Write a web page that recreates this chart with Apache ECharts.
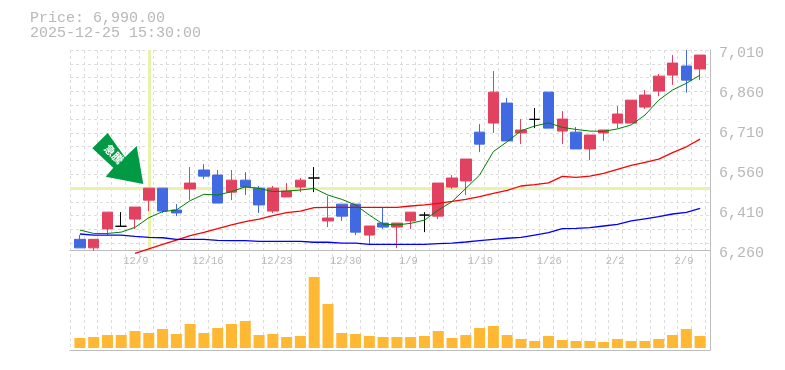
<!DOCTYPE html>
<html><head><meta charset="utf-8">
<script src="https://cdn.jsdelivr.net/npm/echarts@6/dist/echarts.min.js"></script>
<style>html,body{margin:0;padding:0;background:#fff}#c{width:785px;height:370px}</style></head>
<body><div id="c"></div>
<script>
const dates=['12/4','12/5','12/8','12/9','12/10','12/11','12/12','12/15','12/16','12/17','12/18','12/19','12/22','12/23','12/24','12/25','12/26','12/29','12/30','1/5','1/6','1/7','1/8','1/9','1/13','1/14','1/15','1/16','1/19','1/20','1/21','1/22','1/23','1/26','1/27','1/28','1/29','1/30','2/2','2/3','2/4','2/5','2/6','2/9','2/10','2/12'];
const priceTicks=['6,260','6,410','6,560','6,710','6,860','7,010'];
const opens=[6300,6268,6339,6349,6376,6447,6492,6410,6489,6560,6541,6477,6522,6492,6406,6459,6496,6530,6369,6432,6432,6316,6361,6346,6369,6391,6387,6496,6519,6702,6736,6811,6699,6750,6852,6706,6702,6639,6699,6736,6736,6796,6856,6916,6950,6939];
const closes=[6268,6300,6402,6349,6421,6492,6406,6399,6511,6537,6436,6522,6496,6429,6492,6481,6522,6530,6380,6387,6327,6350,6346,6361,6402,6391,6511,6530,6601,6657,6852,6669,6710,6750,6717,6751,6639,6691,6710,6770,6822,6841,6912,6961,6897,6991];
const lows=[6268,6257,6316,6349,6339,6406,6399,6387,6447,6526,6436,6447,6466,6399,6399,6459,6477,6477,6346,6369,6316,6279,6339,6267,6339,6327,6376,6489,6466,6627,6699,6669,6657,6717,6717,6657,6639,6597,6669,6717,6736,6789,6837,6879,6850,6897];
const highs=[6316,6300,6402,6402,6421,6492,6492,6432,6571,6582,6560,6560,6552,6500,6500,6511,6530,6571,6462,6432,6432,6350,6421,6361,6402,6402,6511,6541,6601,6732,6931,6830,6751,6792,6852,6781,6721,6691,6710,6800,6822,6860,6920,6991,7010,6991];
const maShort=[6335,6322,6322,6327,6345,6381,6404,6410,6445,6469,6466,6479,6497,6491,6479,6481,6485,6491,6466,6450,6429,6391,6357,6354,6360,6372,6410,6441,6491,6541,6629,6666,6707,6725,6737,6720,6712,6706,6705,6714,6729,6766,6822,6860,6885,6916];
const maMid=[null,null,null,null,6247,6264,6281,6297,6314,6326,6340,6354,6366,6376,6389,6400,6406,6419,6420,6420,6420,6420,6420,6420,6425,6429,6435,6442,6450,6460,6472,6484,6500,6505,6512,6536,6532,6537,6547,6562,6577,6589,6601,6625,6647,6676];
const maLong=[6320,6316,6316,6316,6311,6307,6306,6300,6300,6300,6296,6295,6295,6292,6292,6292,6292,6289,6289,6286,6286,6281,6281,6281,6281,6281,6284,6286,6290,6295,6300,6304,6307,6316,6325,6340,6341,6344,6350,6356,6369,6377,6385,6395,6401,6416];
const volumes=[100,110,130,130,170,150,190,140,240,150,200,240,270,130,140,110,120,710,440,150,140,120,110,110,110,120,170,100,130,200,220,130,90,70,120,80,70,70,60,90,70,70,90,130,190,120];
const crossDate='12/11', crossPrice=6491;
const priceLine='Price: 6,990.00', timeLine='2025-12-25 15:30:00', arrowText='急騰';

const GRID='#dcdcdc', AXIS='#bdbdbd', TEXT='#b8b8b8', MONO='"Liberation Mono","DejaVu Sans Mono",monospace';
const UP='#e2425f', DOWN='#4169e1', CROSS='#e8f2ad';
const ohlc=dates.map((d,i)=>[opens[i],closes[i],lows[i],highs[i]]);
const none={show:false};
const chart=echarts.init(document.getElementById('c'),null,{renderer:'canvas'});
const dash={show:true,lineStyle:{color:GRID,type:[3,3],width:1}};
const line=(name,data,color,width)=>({name,type:'line',data,xAxisIndex:2,yAxisIndex:3,showSymbol:false,symbol:'none',
  clip:false,connectNulls:false,lineStyle:{color,width},z:5,animation:false});
chart.setOption({
  animation:false,
  backgroundColor:'#fff',
  grid:[
    {left:70,top:50,width:640,height:300},
    {left:70,top:50,width:640,height:200},
    {left:73,top:50,width:634,height:200},
    {left:73,top:250,width:634,height:98},
    {left:70,top:53,width:640,height:200}
  ],
  xAxis:[
    {gridIndex:0,type:'value',min:0,max:46.34,interval:1,axisLabel:none,axisTick:none,splitLine:dash,
     axisLine:{show:true,onZero:false,lineStyle:{color:AXIS,width:1}}},
    {gridIndex:1,type:'value',min:0,max:1,axisLabel:none,axisTick:none,splitLine:none,
     axisLine:{show:true,onZero:false,lineStyle:{color:AXIS,width:1}}},
    {gridIndex:2,type:'category',data:dates,axisLine:none,axisTick:none,splitLine:none,
     axisLabel:{show:true,color:TEXT,fontFamily:MONO,fontSize:10.5,align:'left',margin:6,padding:[0,0,0,2],
       interval:(i)=>(i-3)%5===0&&i>=3,hideOverlap:false}},
    {gridIndex:3,type:'category',data:dates,axisLine:none,axisTick:none,axisLabel:none,splitLine:none},
    {gridIndex:4,type:'value',min:0,max:1,axisLabel:none,axisTick:none,axisLine:none,splitLine:none}
  ],
  yAxis:[
    {gridIndex:0,type:'value',position:'right',min:0,max:1,axisLabel:none,axisTick:none,splitLine:none,
     axisLine:{show:true,onZero:false,lineStyle:{color:AXIS,width:1}}},
    {gridIndex:1,type:'value',inverse:true,min:0,max:14.48,interval:1,axisLabel:none,axisTick:none,axisLine:none,splitLine:dash},
    {gridIndex:4,type:'value',position:'right',min:0,max:5,interval:1,axisLine:none,axisTick:none,splitLine:none,
     axisLabel:{show:true,color:TEXT,fontFamily:MONO,fontSize:15,margin:9,align:'left',
       showMinLabel:true,showMaxLabel:true,formatter:(v)=>priceTicks[Math.round(v)]}},
    {gridIndex:2,type:'value',min:6260,max:7010,axisLabel:none,axisTick:none,axisLine:none,splitLine:none},
    {gridIndex:3,type:'value',min:0,max:980,axisLabel:none,axisTick:none,axisLine:none,splitLine:none},
    {gridIndex:1,type:'value',min:6260,max:7010,axisLabel:none,axisTick:none,axisLine:none,splitLine:none}
  ],
  series:[
    {name:'crosshair-h',type:'line',data:[],xAxisIndex:1,yAxisIndex:5,z:1,silent:true,
     markLine:{z:1,silent:true,symbol:'none',label:none,animation:false,lineStyle:{color:CROSS,type:'solid',width:3},data:[{yAxis:crossPrice}]}},
    {name:'crosshair-v',type:'line',data:[],xAxisIndex:2,yAxisIndex:3,z:1,silent:true,
     markLine:{z:1,silent:true,symbol:'none',label:none,animation:false,lineStyle:{color:CROSS,type:'solid',width:3},data:[{xAxis:crossDate}]}},
    {name:'price',type:'candlestick',data:ohlc,xAxisIndex:2,yAxisIndex:3,barWidth:11,z:3,
     itemStyle:{color:UP,color0:DOWN,borderColor:UP,borderColor0:DOWN,borderColorDoji:'#000',borderWidth:1}},
    line('MA short',maShort,'#008000',1),
    line('MA mid',maMid,'#ff0000',1.3),
    line('MA long',maLong,'#0000ff',1.3),
    {name:'volume',type:'bar',data:volumes,xAxisIndex:3,yAxisIndex:4,barWidth:11,itemStyle:{color:'#ffb833'},z:3}
  ],
  graphic:[
    {type:'text',left:30,top:11,z:10,style:{text:priceLine,fill:TEXT,font:'15px '+MONO}},
    {type:'text',left:30,top:26,z:10,style:{text:timeLine,fill:TEXT,font:'15px '+MONO}},
    {type:'polygon',z:10,shape:{points:[[107.7,133],[125,157.3],[136.7,146],[143.3,184],[105.7,176.7],[113.3,167.7],[92.3,148.3]]},
     style:{fill:'#009944'}},
    {type:'text',z:11,x:114,y:154,rotation:-Math.PI/4,
     style:{text:arrowText,fill:'#fff',font:'bold 11px "Noto Sans CJK JP"',align:'center',verticalAlign:'middle',letterSpacing:5}}
  ]
});
</script></body></html>
